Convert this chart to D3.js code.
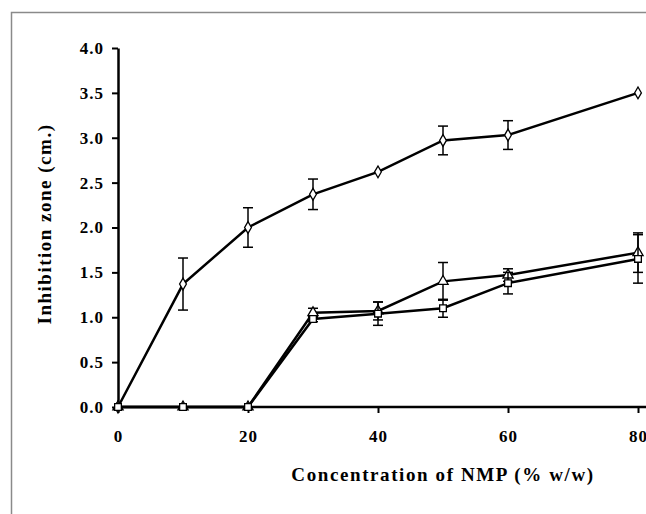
<!DOCTYPE html>
<html>
<head>
<meta charset="utf-8">
<script src="https://cdn.jsdelivr.net/npm/d3@7"></script>
<style>
  body { margin: 0; background: #fff; }
  text { font-family: "Liberation Serif", "Times New Roman", serif; font-weight: bold; }
</style>
</head>
<body>
<div id="graph"></div>
<script>
// chart data
const concentrations = [0, 10, 20, 30, 40, 50, 60, 80];
const diamondValues = [0, 1.37, 2.0, 2.37, 2.62, 2.97, 3.03, 3.5];
const diamondErrors = [0, 0.29, 0.22, 0.17, 0, 0.16, 0.16, 0];
const triangleValues = [0, 0, 0, 1.05, 1.07, 1.40, 1.47, 1.72];
const triangleErrors = [0, 0, 0, 0.05, 0.1, 0.21, 0.07, 0.22];
const squareValues = [0, 0, 0, 0.98, 1.04, 1.10, 1.38, 1.65];
const squareErrors = [0, 0, 0, 0.03, 0.13, 0.1, 0.12, 0.27];
const xTicks = [0, 20, 40, 60, 80];
const yTicks = [0, 0.5, 1.0, 1.5, 2.0, 2.5, 3.0, 3.5, 4.0];

const width = 646, height = 514;
const margin = { top: 48, right: 8, bottom: 107, left: 118 };

let svg = d3.select("#graph")
    .append("svg")
    .attr("width", width)
    .attr("height", height);

// outer frame (cropped on the right and bottom)
svg.append("path")
    .attr("d", `M11.5,${height} V12.5 H${width}`)
    .attr("fill", "none")
    .attr("stroke", "#8a8a8a")
    .attr("stroke-width", 1.5);

let x = d3.scaleLinear()
    .domain([0, 80])
    .range([margin.left, 638]);

let y = d3.scaleLinear()
    .domain([0, 4])
    .range([407, margin.top]);

// x axis
let xAxis = svg.append("g")
    .attr("transform", `translate(0, ${y(0)})`)
    .call(d3.axisBottom(x).tickValues(xTicks).tickSize(6).tickPadding(17).tickSizeOuter(0));
xAxis.select(".domain").remove();
xAxis.append("line")
    .attr("x1", x(0)).attr("x2", width)
    .attr("stroke", "#000").attr("stroke-width", 2.5);
xAxis.selectAll(".tick line").attr("stroke-width", 2);
xAxis.selectAll("text")
    .style("font-size", "17px")
    .style("letter-spacing", "1px")
    .attr("fill", "#000");

// y axis
let yAxis = svg.append("g")
    .attr("transform", `translate(${x(0)}, 0)`)
    .call(d3.axisLeft(y).tickValues(yTicks).tickFormat(d3.format(".1f")).tickSize(6).tickPadding(8).tickSizeOuter(0));
yAxis.select(".domain").attr("stroke-width", 2.5);
yAxis.selectAll(".tick line").attr("stroke-width", 2);
yAxis.selectAll("text")
    .style("font-size", "17px")
    .style("letter-spacing", "1px")
    .attr("fill", "#000");

// axis titles
svg.append("text")
    .attr("x", 443)
    .attr("y", 481)
    .style("text-anchor", "middle")
    .style("font-size", "19px")
    .style("letter-spacing", "1.6px")
    .text("Concentration of NMP (% w/w)");

svg.append("text")
    .attr("transform", `translate(51, 224) rotate(-90)`)
    .style("text-anchor", "middle")
    .style("font-size", "19px")
    .style("letter-spacing", "1.5px")
    .text("Inhibition zone (cm.)");

const series = [
    { values: diamondValues, errors: diamondErrors, shape: "diamond" },
    { values: triangleValues, errors: triangleErrors, shape: "triangle" },
    { values: squareValues, errors: squareErrors, shape: "square" }
];

let line = d3.line()
    .x(function (d) { return x(d[0]); })
    .y(function (d) { return y(d[1]); });

series.forEach(function (s) {
    let pts = concentrations.map(function (c, i) { return [c, s.values[i], s.errors[i]]; });

    // error bars
    let eb = svg.append("g").attr("stroke", "#000").attr("stroke-width", 1.5);
    pts.filter(function (d) { return d[2] > 0; }).forEach(function (d) {
        let cx = x(d[0]);
        eb.append("line").attr("x1", cx).attr("x2", cx)
            .attr("y1", y(d[1] - d[2])).attr("y2", y(d[1] + d[2]));
        [d[1] - d[2], d[1] + d[2]].forEach(function (v) {
            eb.append("line").attr("x1", cx - 5).attr("x2", cx + 5)
                .attr("y1", y(v)).attr("y2", y(v));
        });
    });

    svg.append("path")
        .datum(pts)
        .attr("fill", "none")
        .attr("stroke", "#000")
        .attr("stroke-width", 2.5)
        .attr("d", line);

    let sym = s.shape === "diamond" ? d3.symbolDiamond : (s.shape === "triangle" ? d3.symbolTriangle : d3.symbolSquare);
    svg.append("g").selectAll("path")
        .data(pts)
        .enter()
        .append("path")
        .attr("transform", function (d) { return `translate(${x(d[0])}, ${y(d[1])})`; })
        .attr("d", d3.symbol().type(sym).size(s.shape === "diamond" ? 40 : 45))
        .attr("fill", "#fff")
        .attr("stroke", "#000")
        .attr("stroke-width", 1.3);
});
</script>
</body>
</html>
